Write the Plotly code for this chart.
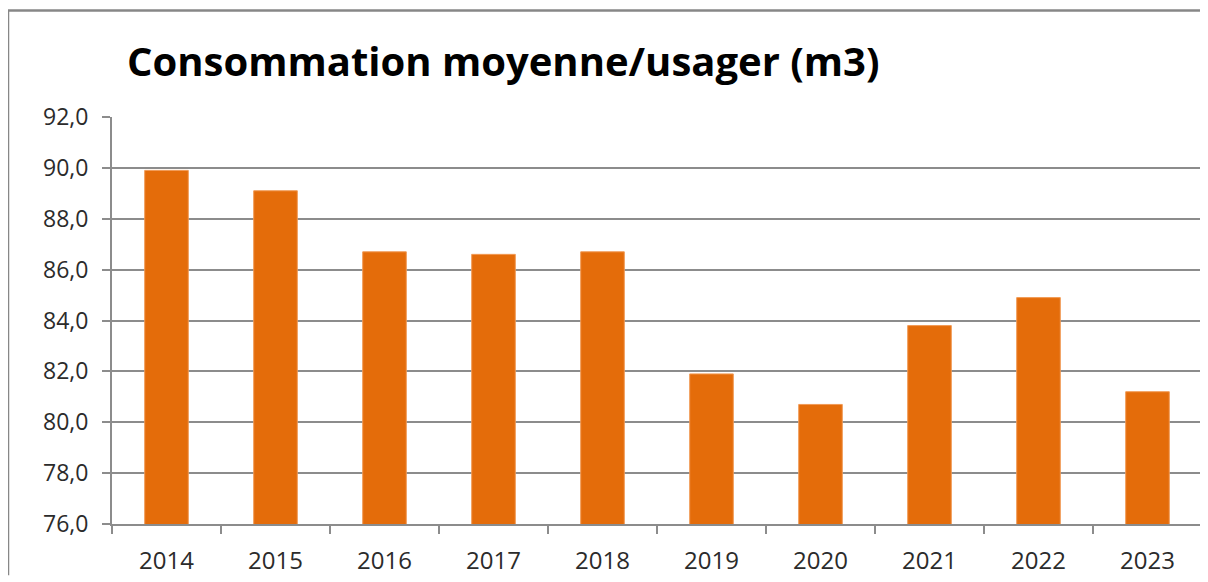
import plotly.graph_objects as go

years = ["2014", "2015", "2016", "2017", "2018", "2019", "2020", "2021", "2022", "2023"]
values = [89.9, 89.1, 86.7, 86.6, 86.7, 81.9, 80.7, 83.8, 84.9, 81.2]
y_ticks = [76, 78, 80, 82, 84, 86, 88, 90, 92]
y_tick_labels = ["76,0", "78,0", "80,0", "82,0", "84,0", "86,0", "88,0", "90,0", "92,0"]

# page body has an 8px margin; figure is placed at (8, 8)
W, H = 1200, 574
L, R, T, B = 104, 6, 109, 52
PW, PH = W - L - R, H - T - B

fig = go.Figure()
fig.add_trace(go.Bar(
    x=years, y=values,
    marker=dict(color="#E46C0A", line=dict(color="#F19A55", width=1)),
    width=0.4,
))

grid_col = "#8C8C8C"
fig.update_layout(
    width=W, height=H,
    margin=dict(l=L, r=R, t=T, b=B, pad=0),
    paper_bgcolor="white", plot_bgcolor="white",
    showlegend=False,
    font=dict(family="Open Sans", color="#2b2b2b", size=23),
    title=dict(
        text="<b>Consommation moyenne/usager (m3)</b>",
        font=dict(family="Open Sans", size=40, color="black"),
        x=119 / W, xanchor="left", xref="container",
        y=1 - 54 / H, yanchor="middle", yref="container",
    ),
    xaxis=dict(
        type="category",
        showline=True, linecolor=grid_col, linewidth=2,
        ticks="outside", ticklen=8, tickcolor=grid_col, tickwidth=2,
        tickson="boundaries",
        ticklabelstandoff=14,
        showgrid=False,
        tickfont=dict(size=24, color="#2b2b2b"),
        range=[-0.5, 9.5],
    ),
    yaxis=dict(
        range=[76, 92],
        tickvals=y_ticks, ticktext=y_tick_labels,
        showline=True, linecolor=grid_col, linewidth=2,
        ticks="outside", ticklen=8, tickcolor=grid_col, tickwidth=2,
        ticklabelstandoff=9,
        showgrid=True, gridcolor=grid_col, gridwidth=2,
        tickfont=dict(size=23, color="#2b2b2b"),
        zeroline=False,
    ),
)

# outer chart frame (left and top edges visible in the reference)
frame_top = 1 + (T - 1) / PH
frame_left = (0 - L) / PW
fig.add_shape(type="line", xref="paper", yref="paper",
              x0=frame_left, x1=(W - L) / PW,
              y0=frame_top, y1=frame_top,
              line=dict(color="#878787", width=2.5))
fig.add_shape(type="line", xref="paper", yref="paper",
              x0=frame_left, x1=frame_left,
              y0=frame_top, y1=-B / PH,
              line=dict(color="#878787", width=2.5))

fig.write_html("out.html")
